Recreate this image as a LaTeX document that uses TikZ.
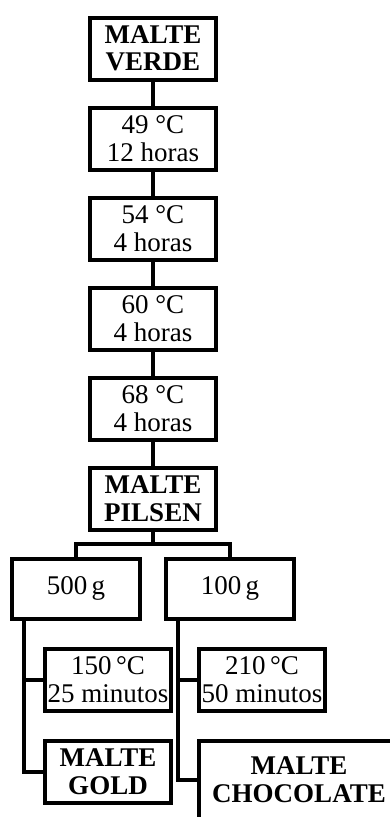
\documentclass[tikz,border=0pt]{standalone}
\usepackage{fontspec}
\setmainfont{Liberation Serif}
\usetikzlibrary{positioning}

\begin{document}
\begin{tikzpicture}[
    x=1pt, y=1pt,
    stepbox/.style={draw, line width=4pt, fill=white, minimum width=126pt, minimum height=62pt, inner sep=1pt, align=center, font=\fontsize{27}{27.5}\selectfont},
    maltbox/.style={stepbox, font=\fontsize{27}{27.5}\selectfont\bfseries},
    massbox/.style={stepbox, minimum width=128pt, minimum height=60pt},
    link/.style={line width=4pt}
]
    \useasboundingbox (0,0) rectangle (390,-817);
    \clip (0,0) rectangle (390,-817);

    % main column
    \node[maltbox] (verde) at (153,-48.5) {MALTE\\VERDE};
    \node[stepbox, below=24pt of verde] (t49) {49 °C\\12 horas};
    \node[stepbox, below=24pt of t49] (t54) {54 °C\\4 horas};
    \node[stepbox, below=24pt of t54] (t60) {60 °C\\4 horas};
    \node[stepbox, below=24pt of t60] (t68) {68 °C\\4 horas};
    \node[maltbox, below=24pt of t68] (pilsen) {MALTE\\PILSEN};

    % the two branches
    \node[massbox, below=25pt of pilsen, xshift=-77pt] (g500) {500\,g};
    \node[massbox, below=25pt of pilsen, xshift=77pt] (g100) {100\,g};
    \node[stepbox, below=26pt of g500, xshift=32pt] (t150) {150\,°C\\25 minutos};
    \node[stepbox, below=26pt of g100, xshift=32pt] (t210) {210\,°C\\50 minutos};
    \node[maltbox, below=26pt of t150] (gold) {MALTE\\GOLD};
    \node[maltbox, minimum width=200pt, minimum height=78pt, below=26pt of t210.south west, anchor=north west] (choc) {MALTE\\CHOCOLATE};

    \draw[link] (verde) -- (t49);
    \draw[link] (t49) -- (t54);
    \draw[link] (t54) -- (t60);
    \draw[link] (t60) -- (t68);
    \draw[link] (t68) -- (pilsen);

    \coordinate (split) at ([yshift=-12pt]pilsen.south);
    \draw[link] (pilsen) -- (split);
    \draw[link] (split) -| (g500);
    \draw[link] (split) -| (g100);

    \coordinate (lspine) at ([xshift=14pt]g500.south west);
    \coordinate (rspine) at ([xshift=14pt]g100.south west);
    \draw[link] (lspine) |- (gold);
    \draw[link] (lspine |- t150) -- (t150);
    \draw[link] (rspine) |- (choc);
    \draw[link] (rspine |- t210) -- (t210);
\end{tikzpicture}
\end{document}
